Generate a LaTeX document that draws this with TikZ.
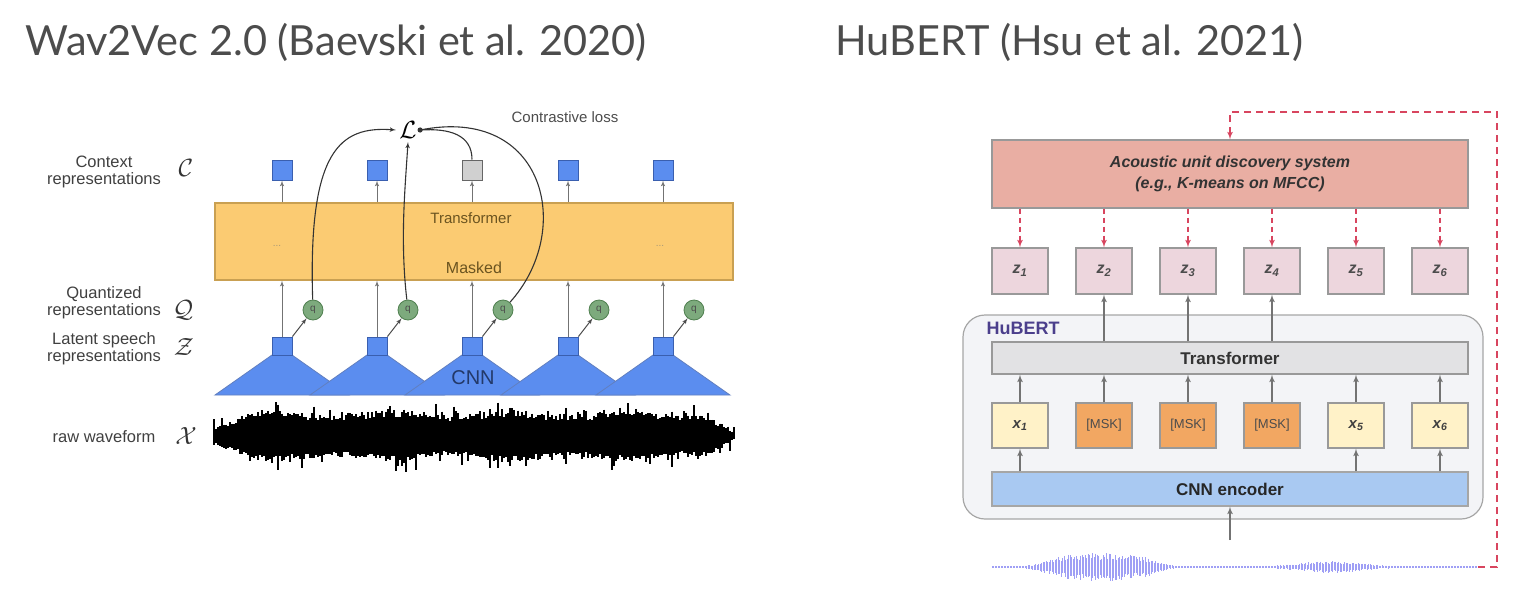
\documentclass[tikz,border=0pt]{standalone}
\usepackage{fontspec}
\setmainfont{Liberation Sans}
\newfontfamily\titlefont{Lato}
\usepackage{xcolor}
\usepackage{tikz}
\usetikzlibrary{arrows}

\definecolor{ctxblue}{HTML}{5B8DEF}
\definecolor{ctxedge}{HTML}{3A5FAF}
\definecolor{ctxgray}{HTML}{D0D0D0}
\definecolor{tforange}{HTML}{FBCB72}
\definecolor{tfedge}{HTML}{C9A052}
\definecolor{tftext}{HTML}{6B5420}
\definecolor{qgreen}{HTML}{7DAA7D}
\definecolor{qedge}{HTML}{4F7F4F}
\definecolor{audsalmon}{HTML}{E9AEA3}
\definecolor{unitpink}{HTML}{EDD6DD}
\definecolor{hubgray}{HTML}{F3F4F7}
\definecolor{trgray}{HTML}{E2E2E4}
\definecolor{inpyellow}{HTML}{FFF2C8}
\definecolor{mskorange}{HTML}{F2A762}
\definecolor{encblue}{HTML}{A9C9F2}
\definecolor{dashred}{HTML}{D8455F}
\definecolor{hubpurple}{HTML}{4B3F8C}
\definecolor{wavblue}{HTML}{6B6BEF}

\begin{document}
\begin{tikzpicture}[x=1pt,y=-1pt,>=latex',
  lbl/.style={align=center,font=\fontsize{16.5}{17}\selectfont,text=black!75},
  mathlbl/.style={font=\fontsize{25}{26}\selectfont,text=black!80},
  ctxbox/.style={line width=1pt,minimum width=20pt,minimum height=20pt,inner sep=0pt},
  latbox/.style={draw=ctxedge,fill=ctxblue,line width=0.8pt,minimum width=20pt,minimum height=18pt,inner sep=0pt},
  qnode/.style={circle,draw=qedge,fill=qgreen,line width=0.8pt,minimum size=20pt,inner sep=0pt,font=\fontsize{10}{10}\selectfont,text=black!70},
  thin arrow/.style={->,draw=black!55,line width=1pt},
  loss curve/.style={draw=black!80,line width=1.1pt},
  wbox/.style={draw=black!40,line width=1.2pt,inner sep=0pt,font=\fontsize{17}{20}\selectfont\bfseries,text=black!80},
  unitbox/.style={wbox,fill=unitpink,minimum width=56pt,minimum height=46pt,font=\fontsize{16}{16}\selectfont\bfseries\itshape,text=black!70},
  inpbox/.style={wbox,fill=inpyellow,minimum width=56pt,minimum height=45pt,font=\fontsize{15}{15}\selectfont\bfseries\itshape,text=black!75},
  mskbox/.style={wbox,fill=mskorange,minimum width=56pt,minimum height=45pt,font=\fontsize{13}{13}\selectfont,text=black!70},
  gray arrow/.style={->,draw=black!55,line width=1.6pt},
  red arrow/.style={->,draw=dashred,line width=1.6pt,dash pattern=on 5pt off 4pt},
  red loop/.style={->,draw=dashred,line width=1.6pt,dash pattern=on 7pt off 5pt}
]
\useasboundingbox (0,0) rectangle (1535,603);

% titles
\node[anchor=west,font=\titlefont\fontsize{41.5}{46}\selectfont,text=black!70] (ttlw) at (22,42) {Wav2Vec 2.0 (Baevski et al. 2020)};
\node[anchor=west,font=\titlefont\fontsize{41.5}{46}\selectfont,text=black!70] (ttlh) at (832,42) {HuBERT (Hsu et al. 2021)};

%%% Wav2Vec 2.0
\node[lbl] (lctx) at (104,172) {Context\\representations};
\node[lbl] (lqnt) at (104,303) {Quantized\\representations};
\node[lbl] (llat) at (104,349) {Latent speech\\representations};
\node[lbl] (lraw) at (104,437) {raw waveform};
\node[mathlbl] (mc) at (186,168) {$\mathcal{C}$};
\node[mathlbl] (mq) at (183,310) {$\mathcal{Q}$};
\node[mathlbl] (mz) at (184,347) {$\mathcal{Z}$};
\node[mathlbl] (mx) at (186,436) {$\mathcal{X}$};

\node[draw=tfedge,fill=tforange,line width=1.2pt,minimum width=518pt,minimum height=77pt,inner sep=0pt] (tf) at (474,241.5) {};
\node[font=\fontsize{15}{15}\selectfont,text=tftext] (tft) at (471,218) {Transformer};
\node[font=\fontsize{16}{16}\selectfont,text=tftext] (tfm) at (474,268) {Masked};
\node[text=tftext!60] (dl) at (277,246) {...};
\node[text=tftext!60] (dr) at (660,246) {...};

% cnn feature encoder
\foreach \x in {282,377,472,568,663}{
  \fill[ctxblue,draw=ctxedge!80,line width=0.8pt] (\x-67,395) -- (\x-10,355) -- (\x+10,355) -- (\x+67,395) -- cycle;
}
\node[font=\fontsize{20}{20}\selectfont,text=ctxedge!60!black] (cnn) at (473,378) {CNN};

\foreach \x/\c/\e [count=\i] in {282/ctxblue/ctxedge,377/ctxblue/ctxedge,472/ctxgray/black!60,568/ctxblue/ctxedge,663/ctxblue/ctxedge}{
  \node[latbox] (lat\i) at (\x,346) {};
  \node[ctxbox,fill=\c,draw=\e] (ctx\i) at (\x,170) {};
  \node[qnode] (q\i) at (\x+31,310) {q};
}

\foreach \i in {1,...,5}{
  \draw[thin arrow] (ctx\i |- tf.north) -- (ctx\i);
  \draw[thin arrow] (lat\i) -- (lat\i |- tf.south);
  \draw[thin arrow,draw=black!70] (lat\i.north east) -- (q\i);
}

% contrastive loss
\node[font=\fontsize{25}{25}\selectfont] (L) at (408,130) {$\mathcal{L}$};
\node[font=\fontsize{15}{15}\selectfont,text=black!70] (closs) at (565,117) {Contrastive loss};
\draw[loss curve,->] (q1) .. controls (308,150) and (340,126) .. (L.west);
\draw[loss curve,->] (q2) .. controls (400,240) and (405,190) .. (L.south);
\draw[loss curve] (ctx3.north) .. controls (472,135) and (450,128) .. (L.east);
\draw[loss curve] (q3) .. controls (575,230) and (545,105) .. (L.east);
\fill[black!80] (L.east) circle (2.6pt);

% raw waveform
\pgfmathsetseed{11}
\foreach \i in {0,...,260}{
  \pgfmathsetmacro{\xx}{214+2*\i}
  \pgfmathsetmacro{\env}{(8+12*min(1,(\xx-214)/40))*min(1,(737-\xx)/32)*(1+0.12*sin(3*\xx))+1}
  \pgfmathsetmacro{\up}{\env*(0.8+0.3*rnd)+12*rnd^6}
  \pgfmathsetmacro{\dn}{\env*(0.8+0.3*rnd)+12*rnd^6}
  \draw[line width=2.4pt] (\xx,436-\up) -- (\xx,436+\dn);
}

%%% HuBERT
\node[wbox,fill=audsalmon,minimum width=476pt,minimum height=68pt,align=center,font=\fontsize{16}{21}\selectfont\bfseries\itshape] (aud) at (1230,174) {Acoustic unit discovery system\\(e.g., K-means on MFCC)};
\node[draw=black!35,fill=hubgray,line width=1.2pt,rounded corners=22pt,minimum width=520pt,minimum height=204pt] (hub) at (1223,417) {};
\node[anchor=west,font=\fontsize{18}{18}\selectfont\bfseries,text=hubpurple] (hubl) at (983,328) {HuBERT};
\node[wbox,fill=trgray,minimum width=476pt,minimum height=32pt] (tfr) at (1230,358) {Transformer};
\node[wbox,fill=encblue,draw=black!35,minimum width=476pt,minimum height=34pt,text=black!85] (enc) at (1230,489) {CNN encoder};

\node[unitbox] (unit1) at (1020,271) {z\textsubscript{1}};
\node[unitbox] (unit2) at (1104,271) {z\textsubscript{2}};
\node[unitbox] (unit3) at (1188,271) {z\textsubscript{3}};
\node[unitbox] (unit4) at (1272,271) {z\textsubscript{4}};
\node[unitbox] (unit5) at (1356,271) {z\textsubscript{5}};
\node[unitbox] (unit6) at (1440,271) {z\textsubscript{6}};

\node[inpbox] (inp1) at (1020,425.5) {x\textsubscript{1}};
\node[mskbox] (inp2) at (1104,425.5) {[MSK]};
\node[mskbox] (inp3) at (1188,425.5) {[MSK]};
\node[mskbox] (inp4) at (1272,425.5) {[MSK]};
\node[inpbox] (inp5) at (1356,425.5) {x\textsubscript{5}};
\node[inpbox] (inp6) at (1440,425.5) {x\textsubscript{6}};

\foreach \i in {1,...,6}{
  \draw[red arrow] (unit\i |- aud.south) -- (unit\i);
  \draw[gray arrow] (inp\i) -- (inp\i |- tfr.south);
}
\foreach \i in {2,3,4}
  \draw[gray arrow] (unit\i |- tfr.north) -- (unit\i);
\foreach \i in {1,5,6}
  \draw[gray arrow] (inp\i |- enc.north) -- (inp\i);

% speech input
\pgfmathsetseed{5}
\foreach \i in {0,...,324}{
  \pgfmathsetmacro{\xx}{992+1.5*\i}
  \pgfmathsetmacro{\env}{1+13*exp(max(-20,-((\xx-1105)/52)^4))+3*exp(max(-20,-((\xx-1050)/20)^2))+5*exp(max(-20,-((\xx-1330)/40)^2))}
  \pgfmathsetmacro{\up}{\env*(0.5+0.5*rnd)}
  \pgfmathsetmacro{\dn}{\env*(0.5+0.5*rnd)}
  \draw[wavblue,opacity=0.65,line width=1pt] (\xx,567-\up) -- (\xx,567+\dn);
}
\coordinate (wavin) at (1230,540);
\coordinate (wend) at (1478,567);
\coordinate (fbk) at (1497,112);
\draw[gray arrow] (wavin) -- (enc);
\draw[red loop] (wend) -| (fbk) -| (aud);
\end{tikzpicture}
\end{document}
